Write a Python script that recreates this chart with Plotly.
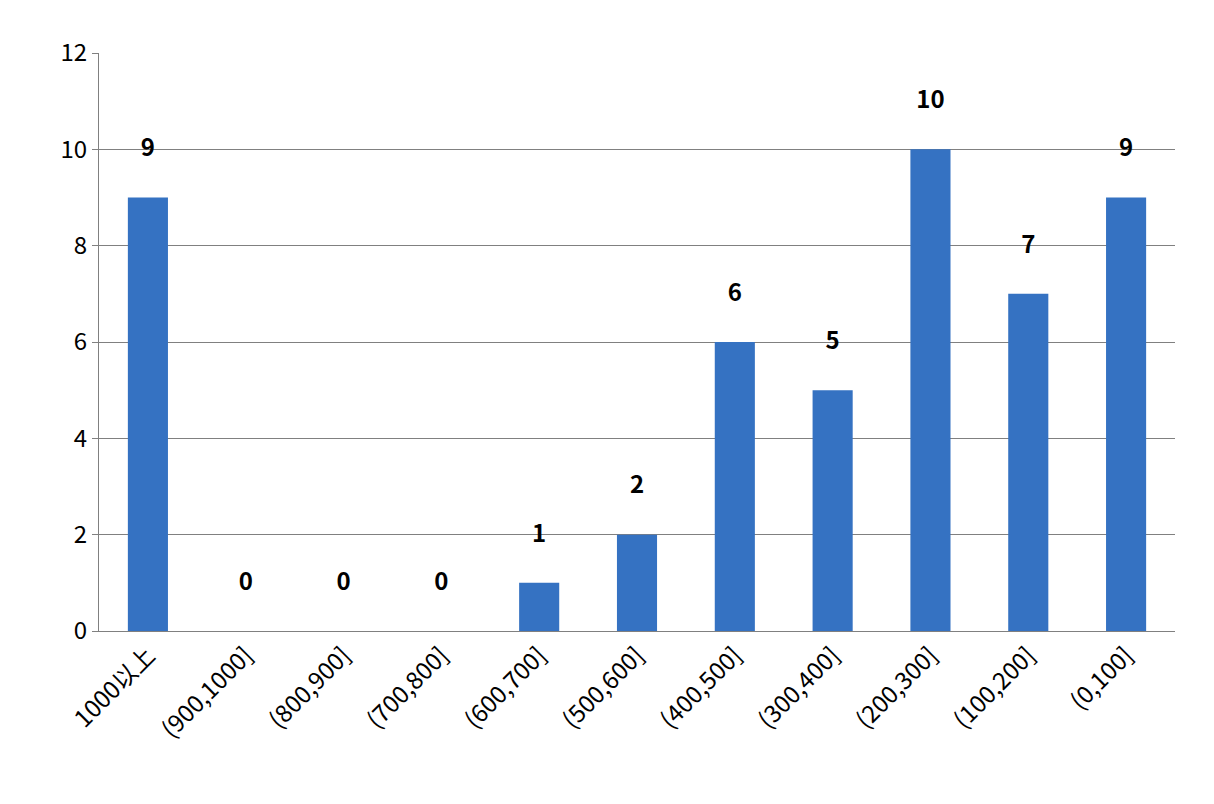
import plotly.graph_objects as go

categories = ["1000以上", "(900,1000]", "(800,900]", "(700,800]", "(600,700]", "(500,600]",
              "(400,500]", "(300,400]", "(200,300]", "(100,200]", "(0,100]"]
values = [9, 0, 0, 0, 1, 2, 6, 5, 10, 7, 9]

fig = go.Figure(go.Bar(
    x=categories, y=values, text=values, textposition="outside",
    textfont=dict(size=24, color="black", family="Noto Sans CJK SC"),
    texttemplate="<b>%{text}</b><br> ",
    marker=dict(color="#3572c2", line=dict(width=0)),
    cliponaxis=False,
))
fig.update_layout(
    width=1214, height=804, paper_bgcolor="white", plot_bgcolor="white",
    margin=dict(l=91, r=47, t=45, b=181, autoexpand=False), bargap=0.59, showlegend=False,
    font=dict(family="Noto Sans CJK SC", size=24, color="black"),
)
fig.update_yaxes(range=[0, 12], dtick=2, showgrid=True, gridcolor="#808080", gridwidth=1,
                 showline=True, linecolor="#808080", ticks="outside", ticklen=6,
                 tickcolor="#808080", zeroline=False, tickfont=dict(size=24), automargin=False)
fig.update_xaxes(tickangle=-45, showline=True, linecolor="#808080", tickfont=dict(size=24),
                 ticks="", automargin=False)
fig.write_html("out.html")
